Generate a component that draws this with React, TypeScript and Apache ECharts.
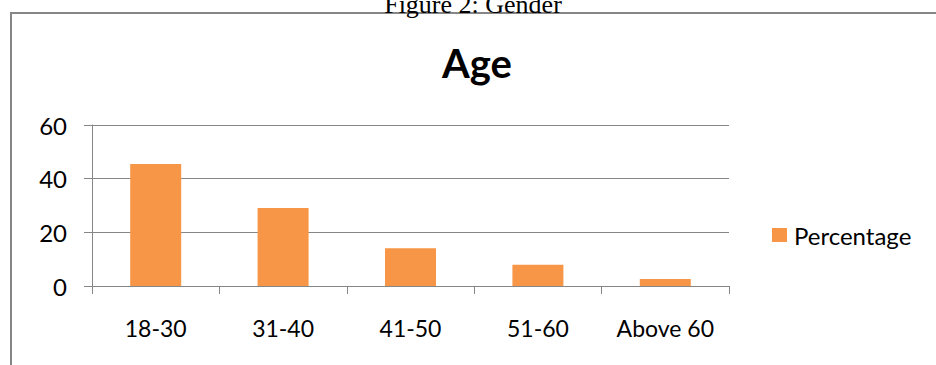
import React, { useEffect, useRef } from "react";
import * as echarts from "echarts";

const categories = ["18-30", "31-40", "41-50", "51-60", "Above 60"];
const percentage = [45.5, 29.1, 14.1, 7.9, 2.6];
const yTicks = { min: 0, max: 60, interval: 20 };
const seriesName = "Percentage";
const chartTitle = "Age";
const figureCaption = "Figure 2: Gender";

export default function App() {
  const ref = useRef<HTMLDivElement>(null);
  useEffect(() => {
    if (!ref.current) return;
    const chart = echarts.init(ref.current, null, { renderer: "svg" });
    const gray = "#868686";
    const font = "Lato, 'Open Sans', sans-serif";
    chart.setOption({
      animation: false,
      backgroundColor: "#ffffff",
      title: {
        text: chartTitle,
        left: 477,
        top: 43,
        textAlign: "center",
        padding: 0,
        textStyle: { fontFamily: font, fontSize: 40, fontWeight: "bold", color: "#000" },
      },
      legend: {
        data: [seriesName],
        left: 772,
        top: 223,
        padding: 0,
        itemWidth: 15,
        itemHeight: 14,
        itemGap: 6,
        icon: "rect",
        textStyle: { fontFamily: font, fontSize: 24, color: "#000", padding: [0, 0, 0, 2] },
      },
      grid: { left: 92, right: 207, top: 125, bottom: 79 },
      xAxis: {
        type: "category",
        data: categories,
        axisLine: { show: true, lineStyle: { color: gray, width: 1 } },
        axisTick: { show: true, length: 8, lineStyle: { color: gray } },
        axisLabel: { fontFamily: font, fontSize: 23, color: "#000", margin: 30 },
      },
      yAxis: {
        type: "value",
        min: yTicks.min,
        max: yTicks.max,
        interval: yTicks.interval,
        axisLine: { show: true, lineStyle: { color: gray, width: 1 } },
        axisTick: { show: true, length: 8, lineStyle: { color: gray } },
        axisLabel: { fontFamily: font, fontSize: 24, color: "#000", margin: 25 },
        splitLine: { show: true, lineStyle: { color: gray, width: 1 } },
      },
      series: [
        {
          name: seriesName,
          type: "bar",
          data: percentage,
          barWidth: 51,
          itemStyle: { color: "#F79646" },
        },
      ],
      graphic: [
        {
          type: "rect",
          shape: { x: 11, y: 13, width: 1000, height: 500 },
          style: { fill: "none", stroke: gray, lineWidth: 2 },
          silent: true,
        },
        {
          type: "text",
          x: 473,
          y: 17,
          style: {
            text: figureCaption,
            font: "26px 'Liberation Serif', 'Times New Roman', serif",
            fill: "#000",
            align: "center",
            verticalAlign: "bottom",
          },
          silent: true,
        },
      ],
    });
    return () => chart.dispose();
  }, []);
  return (
    <div
      ref={ref}
      style={{ position: "absolute", left: 0, top: 0, width: 936, height: 365 }}
    />
  );
}
